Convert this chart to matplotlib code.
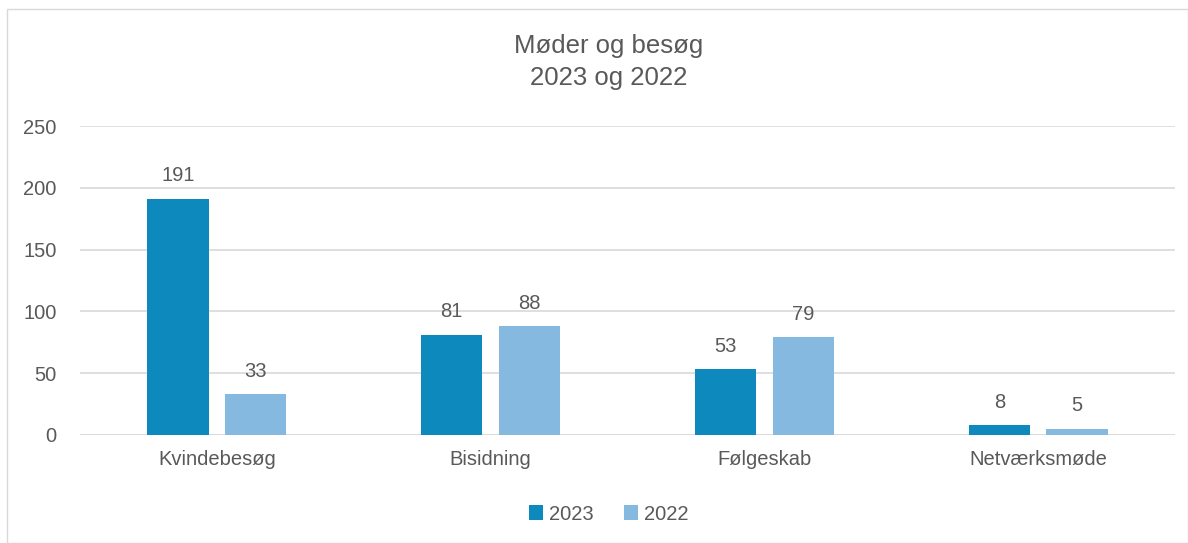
import numpy as np
import matplotlib
matplotlib.use('Agg')
import matplotlib.pyplot as plt
from matplotlib.patches import Rectangle

categories = ['Kvindebesøg', 'Bisidning', 'Følgeskab', 'Netværksmøde']
series_names = ['2023', '2022']
values_2023 = [191, 81, 53, 8]
values_2022 = [33, 88, 79, 5]
yticks = [0, 50, 100, 150, 200, 250]

COLORS = ['#0E89BE', '#85B9E0']
TEXT = '#595959'


def main():
    plt.rcParams['font.family'] = ['Liberation Sans', 'DejaVu Sans']
    fig = plt.figure(figsize=(11.88, 5.43), dpi=100)

    # ramme rundt om diagrammet
    fig.patches.append(Rectangle((7/1188, 0), 1 - 7/1188, 1 - 9/543,
                                 transform=fig.transFigure, fill=False,
                                 edgecolor='#D9D9D9', lw=1))

    ax = fig.add_axes([80/1188, 1 - 435/543, 1095/1188, 309/543])
    x = np.arange(len(categories))
    w = 0.223
    off = 0.142

    for vals, name, col, sgn in [(values_2023, series_names[0], COLORS[0], -1),
                                 (values_2022, series_names[1], COLORS[1], 1)]:
        bars = ax.bar(x + sgn*off, vals, w, color=col, label=name, zorder=3)
        for b, v in zip(bars, vals):
            ax.text(b.get_x() + b.get_width()/2, v + 11, str(v), ha='center',
                    va='bottom', fontsize=14.5, color=TEXT)

    ax.set_xlim(-0.5, len(categories) - 0.5)
    ax.set_ylim(0, 250)
    ax.set_yticks(yticks)
    ax.yaxis.grid(True, color='#D9D9D9', lw=1.2, zorder=0)
    ax.set_xticks(x)
    ax.set_xticklabels(categories)
    ax.tick_params(axis='both', length=0, labelsize=14.5, labelcolor=TEXT)
    ax.tick_params(axis='x', pad=11)
    ax.tick_params(axis='y', pad=17)
    for s in ax.spines.values():
        s.set_visible(False)
    ax.axhline(0, color='#D9D9D9', lw=1.2, zorder=2)

    fig.text(609/1188, 1 - 62/543, 'Møder og besøg\n2023 og 2022', ha='center',
             va='center', fontsize=18.5, color=TEXT, linespacing=1.45)

    fig.legend(loc='center', bbox_to_anchor=(609/1188, 1 - 514/543), ncol=2,
               frameon=False, fontsize=14.5, labelcolor=TEXT, handlelength=0.7,
               handleheight=0.7, handletextpad=0.3, columnspacing=1.5)

    fig.savefig('out.png', dpi=100)


if __name__ == "__main__":
    main()
